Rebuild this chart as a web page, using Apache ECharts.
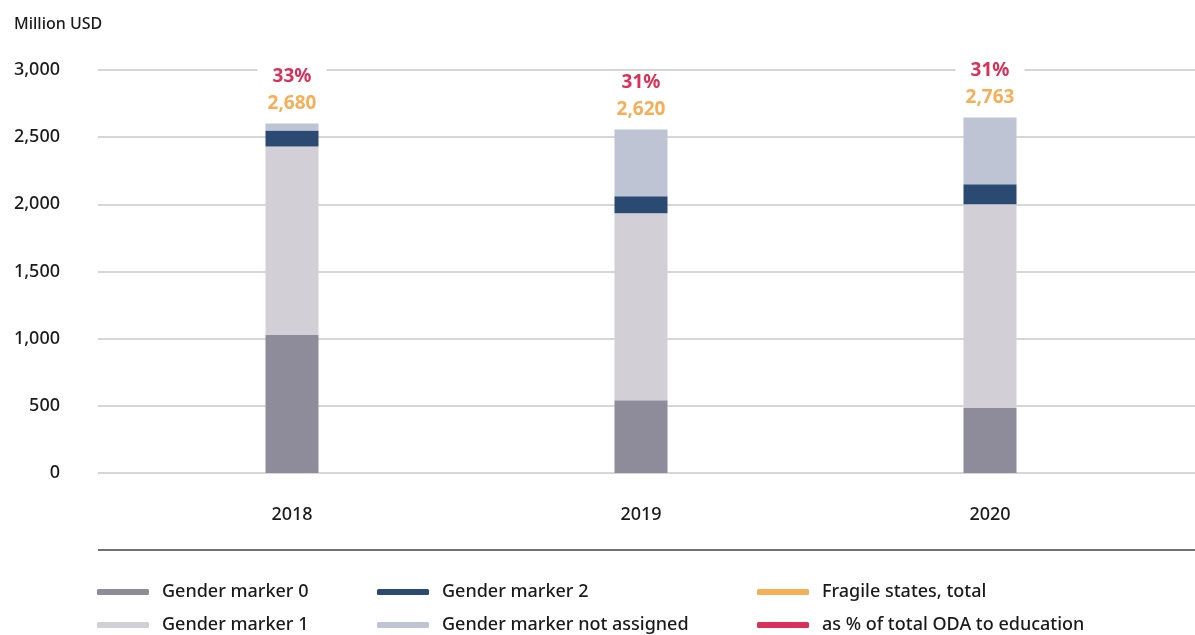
<!DOCTYPE html>
<html>
<head>
<meta charset="utf-8">
<script src="https://cdn.jsdelivr.net/npm/echarts@6/dist/echarts.min.js"></script>
<style>
html,body{margin:0;padding:0;background:#fff;}
#chart{width:1195px;height:635px;}
</style>
</head>
<body>
<div id="chart"></div>
<script>
var years = ['2018', '2019', '2020'];
var gm0 = [1028, 542, 483];
var gm1 = [1403, 1391, 1517];
var gm2 = [119, 127, 149];
var gmNA = [52, 497, 498];
var fragileTotal = [2680, 2620, 2763];
var pctODA = [33, 31, 31];
var yTicks = [0, 500, 1000, 1500, 2000, 2500, 3000];

var FONT = '"Noto Sans", sans-serif';
var chart = echarts.init(document.getElementById('chart'));

function fmt(v){ return v.toLocaleString('en-US'); }

var barCommon = { type: 'bar', stack: 'g', xAxisIndex: 1, yAxisIndex: 1, barWidth: 53 };
function legendAt(left, names){
  return { orient: 'vertical', left: left, top: 583, padding: 0, height: 52,
    itemWidth: 52, itemHeight: 6, itemGap: 15, icon: 'roundRect',
    textStyle: { fontSize: 18, fontWeight: 500, color: '#1a1a1a', lineHeight: 18, padding: [0,0,0,8], fontFamily: FONT },
    data: names };
}

var option = {
  backgroundColor: '#fff',
  animation: false,
  textStyle: { fontFamily: FONT },
  grid: [
    { left: 98, right: 0, top: 70, bottom: 162 },
    { left: 117.5, right: 30.5, top: 70, bottom: 162 }
  ],
  xAxis: [
    { gridIndex: 0, type: 'value', show: false, min: 0, max: 1 },
    { gridIndex: 1, type: 'category', data: years,
      axisLine: { show: false }, axisTick: { show: false },
      axisLabel: { margin: 33, fontSize: 18, fontWeight: 500, color: '#1a1a1a', fontFamily: FONT } }
  ],
  yAxis: [
    { gridIndex: 0, type: 'value', min: yTicks[0], max: yTicks[yTicks.length-1], interval: 500,
      name: 'Million USD', nameLocation: 'end', nameGap: 0,
      nameTextStyle: { fontSize: 16, color: '#1a1a1a', fontWeight: 500, align: 'left', verticalAlign: 'bottom', padding: [0,0,38,-84], fontFamily: FONT },
      axisLine: { show: false }, axisTick: { show: false },
      axisLabel: { margin: 38, fontSize: 18, fontWeight: 500, color: '#1a1a1a', fontFamily: FONT,
        formatter: function(v){ return fmt(v); } },
      splitLine: { lineStyle: { color: '#d6d6d6', width: 2 } } },
    { gridIndex: 1, type: 'value', min: 0, max: 3000, show: false, splitLine: { show: false } }
  ],
  legend: [
    legendAt(97, ['Gender marker 0', 'Gender marker 1']),
    legendAt(377, ['Gender marker 2', 'Gender marker not assigned']),
    legendAt(757, ['Fragile states, total', 'as % of total ODA to education'])
  ],
  graphic: [
    { type: 'line', shape: { x1: 98, y1: 550, x2: 1195, y2: 550 }, style: { stroke: '#707070', lineWidth: 2 } }
  ],
  series: [
    Object.assign({}, barCommon, { name: 'Gender marker 0', data: gm0, itemStyle: { color: '#8e8c9b' } }),
    Object.assign({}, barCommon, { name: 'Gender marker 1', data: gm1, itemStyle: { color: '#d2cfd6' } }),
    Object.assign({}, barCommon, { name: 'Gender marker 2', data: gm2, itemStyle: { color: '#2a4a72' } }),
    Object.assign({}, barCommon, { name: 'Gender marker not assigned', data: gmNA, itemStyle: { color: '#bec4d3' },
      label: { show: true, position: 'top', distance: 6,
        formatter: function(p){ return '{p|' + pctODA[p.dataIndex] + '%}\n{v|' + fmt(fragileTotal[p.dataIndex]) + '}'; },
        rich: {
          p: { fontSize: 19, fontWeight: 'bold', color: '#d9315a', lineHeight: 27, backgroundColor: '#fff', padding: [0, 15], fontFamily: FONT },
          v: { fontSize: 19, fontWeight: 'bold', color: '#f6ae57', lineHeight: 27, fontFamily: FONT }
        } } }),
    { name: 'Fragile states, total', type: 'line', xAxisIndex: 1, yAxisIndex: 1, data: [], itemStyle: { color: '#f6ae57' }, lineStyle: { color: '#f6ae57' } },
    { name: 'as % of total ODA to education', type: 'line', xAxisIndex: 1, yAxisIndex: 1, data: [], itemStyle: { color: '#d9315a' }, lineStyle: { color: '#d9315a' } }
  ]
};
chart.setOption(option);
</script>
</body>
</html>
